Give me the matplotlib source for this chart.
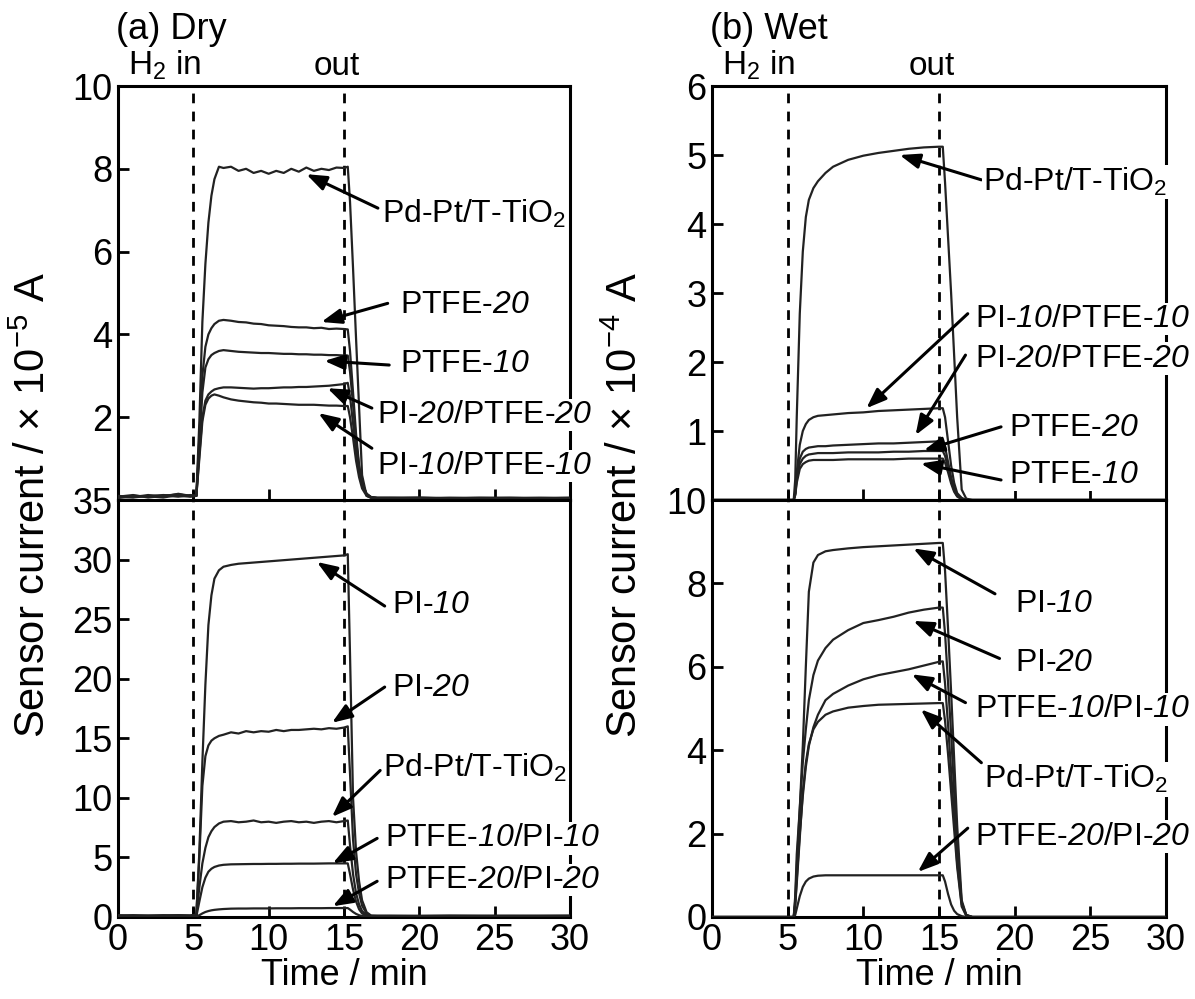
import matplotlib
matplotlib.use('Agg')
import matplotlib.pyplot as plt

plt.rcParams['font.family'] = ['Liberation Sans', 'DejaVu Sans']
plt.rcParams['mathtext.fontset'] = 'custom'
plt.rcParams['mathtext.rm'] = 'Liberation Sans'
plt.rcParams['mathtext.it'] = 'Liberation Sans:italic'
plt.rcParams['mathtext.sf'] = 'Liberation Sans:italic'  # used for the italic thickness numbers

# ---- time grids (min) ----
t_dry = [0, 1, 2, 3, 4, 4.8, 5.2, 5.4, 5.6, 5.8, 6.0, 6.2, 6.4, 6.7, 7.0, 7.5, 8.0, 8.5,
         9.0, 9.5, 10.0, 10.5, 11.0, 11.5, 12.0, 12.5, 13.0, 13.5, 14.0, 14.5, 15.0, 15.25,
         15.4, 15.6, 15.8, 16.0, 16.2, 16.5, 16.8, 17.2, 18, 20, 22, 24, 26, 28, 30]
t_wet = [0, 2, 4, 5.0, 5.4, 5.5, 5.6, 5.8, 6.0, 6.2, 6.4, 6.7, 7.0, 7.5, 8.0, 9.0, 10, 11,
         12, 13, 14, 15.0, 15.25, 15.4, 15.6, 15.8, 16.0, 16.2, 16.5, 16.8, 17.2, 18, 20, 25, 30]

# ---- (a) Dry, upper panel, x10^-5 A ----
dry_pdpt_top = [0.08, 0.12, 0.06, 0.10, 0.14, 0.09, 0.10,
                1.9, 4.3, 5.7, 6.7, 7.35, 7.75, 8.05,
                8.02, 8.05, 7.95, 8.0, 7.9, 7.95, 7.88, 7.95, 7.9, 8.0, 7.93, 8.03, 7.95, 8.0, 7.97, 8.03, 8.02, 8.05,
                7.2, 5.6, 3.9, 2.25, 0.6, 0.1, 0.06, 0.05, 0.05, 0.06, 0.04, 0.05, 0.05, 0.04, 0.05]
dry_ptfe20_top = [0.06, 0.1, 0.08, 0.12, 0.1, 0.08, 0.1,
                  1.5, 3.0, 3.7, 4.0, 4.15, 4.25, 4.33,
                  4.35, 4.33, 4.3, 4.29, 4.26, 4.25, 4.22, 4.21, 4.2, 4.18, 4.17, 4.17, 4.15, 4.16, 4.13, 4.14, 4.13, 4.12,
                  3.6, 2.6, 1.6, 0.85, 0.4, 0.15, 0.07, 0.05, 0.05, 0.04, 0.05, 0.05, 0.04, 0.05, 0.05]
dry_ptfe10_top = [0.1, 0.07, 0.12, 0.08, 0.15, 0.1, 0.1,
                  1.3, 2.6, 3.2, 3.4, 3.5, 3.55, 3.6,
                  3.62, 3.6, 3.58, 3.57, 3.56, 3.55, 3.55, 3.54, 3.53, 3.53, 3.52, 3.52, 3.51, 3.51, 3.5, 3.5, 3.49, 3.49,
                  3.1, 2.3, 1.45, 0.8, 0.4, 0.15, 0.07, 0.05, 0.05, 0.05, 0.04, 0.05, 0.05, 0.05, 0.04]
dry_pi20ptfe20_top = [0.05, 0.1, 0.09, 0.06, 0.12, 0.1, 0.1,
                      1.1, 2.0, 2.4, 2.55, 2.62, 2.67, 2.7,
                      2.72, 2.72, 2.71, 2.7, 2.69, 2.7, 2.7, 2.71, 2.72, 2.72, 2.73, 2.73, 2.74, 2.75, 2.76, 2.78, 2.8, 2.83,
                      2.5, 1.85, 1.2, 0.7, 0.35, 0.13, 0.06, 0.05, 0.05, 0.05, 0.05, 0.04, 0.05, 0.05, 0.05]
dry_pi10ptfe10_top = [0.07, 0.06, 0.1, 0.11, 0.08, 0.12, 0.1,
                      1.0, 1.9, 2.3, 2.45, 2.52, 2.55, 2.52,
                      2.48, 2.43, 2.4, 2.38, 2.36, 2.35, 2.33, 2.33, 2.32, 2.31, 2.3, 2.3, 2.3, 2.29, 2.28, 2.28, 2.27, 2.27,
                      2.0, 1.5, 0.95, 0.55, 0.28, 0.1, 0.05, 0.05, 0.05, 0.04, 0.05, 0.05, 0.05, 0.04, 0.05]

# ---- (a) Dry, lower panel, x10^-5 A ----
dry_pi10_bot = [0.1, 0.15, 0.1, 0.12, 0.15, 0.1, 0.2,
                5.5, 13, 19.5, 24.5, 27.0, 28.4, 29.1,
                29.4, 29.55, 29.65, 29.7, 29.75, 29.8, 29.85, 29.9, 29.95, 30.0, 30.05, 30.1, 30.15, 30.2, 30.25, 30.3, 30.35, 30.45,
                22, 10, 5.5, 3.0, 1.4, 0.4, 0.12, 0.1, 0.08, 0.1, 0.1, 0.08, 0.1, 0.1, 0.1]
dry_pi20_bot = [0.15, 0.1, 0.12, 0.1, 0.15, 0.12, 0.2,
                5, 11, 13.5, 14.4, 14.8, 15.0, 15.2,
                15.3, 15.5, 15.4, 15.6, 15.5, 15.6, 15.55, 15.7, 15.6, 15.7, 15.7, 15.75, 15.8, 15.75, 15.85, 15.8, 15.9, 16.0,
                12, 6.5, 3.6, 2.0, 0.95, 0.3, 0.1, 0.1, 0.1, 0.08, 0.1, 0.1, 0.1, 0.08, 0.1]
dry_pdpt_bot = [0.1, 0.12, 0.1, 0.15, 0.1, 0.12, 0.15,
                2.5, 4.5, 5.8, 6.7, 7.2, 7.55, 7.85,
                8.0, 8.05, 7.95, 8.0, 8.1, 7.95, 8.0, 7.9, 8.0, 8.05, 7.95, 8.0, 7.9, 8.0, 8.05, 7.95, 8.05, 8.1,
                6.0, 3.6, 2.0, 1.05, 0.5, 0.15, 0.08, 0.08, 0.1, 0.08, 0.1, 0.1, 0.08, 0.1, 0.1]
dry_ptfe10pi10_bot = [0.05, 0.05, 0.05, 0.05, 0.05, 0.05, 0.05,
                      1.3, 2.5, 3.3, 3.8, 4.05, 4.2, 4.32,
                      4.38, 4.42, 4.43, 4.44, 4.45, 4.45, 4.46, 4.46, 4.47, 4.47, 4.48, 4.48, 4.48, 4.49, 4.5, 4.5, 4.5, 4.5,
                      3.6, 2.3, 1.3, 0.65, 0.3, 0.1, 0.05, 0.05, 0.05, 0.05, 0.05, 0.05, 0.05, 0.05, 0.05]
dry_ptfe20pi20_bot = [0.05, 0.05, 0.05, 0.05, 0.05, 0.05, 0.05,
                      0.15, 0.3, 0.42, 0.5, 0.56, 0.6, 0.64,
                      0.67, 0.7, 0.71, 0.71, 0.72, 0.72, 0.72, 0.73, 0.73, 0.73, 0.74, 0.74, 0.74, 0.74, 0.75, 0.75, 0.75, 0.75,
                      0.62, 0.42, 0.26, 0.15, 0.08, 0.05, 0.05, 0.05, 0.05, 0.05, 0.05, 0.05, 0.05, 0.05, 0.05]

# ---- (b) Wet, upper panel, x10^-4 A ----
wet_pdpt_top = [0, 0, 0, 0, 0,
                0.3, 1.2, 2.7, 3.6, 4.1, 4.35, 4.52, 4.62,
                4.74, 4.83, 4.93, 4.99, 5.03, 5.06, 5.09, 5.11, 5.12, 5.12,
                4.6, 3.8, 3.0, 2.1, 1.2, 0.15, 0.02, 0, 0, 0, 0, 0]
wet_pi10ptfe10_top = [0, 0, 0, 0, 0,
                      0.1, 0.4, 0.8, 1.0, 1.1, 1.16, 1.2, 1.22,
                      1.23, 1.24, 1.26, 1.27, 1.29, 1.3, 1.31, 1.32, 1.33, 1.33,
                      1.2, 0.85, 0.5, 0.25, 0.1, 0.03, 0, 0, 0, 0, 0, 0]
wet_pi20ptfe20_top = [0, 0, 0, 0, 0,
                      0.1, 0.35, 0.6, 0.7, 0.74, 0.76, 0.77, 0.78,
                      0.78, 0.79, 0.8, 0.81, 0.82, 0.82, 0.83, 0.84, 0.85, 0.85,
                      0.77, 0.55, 0.33, 0.17, 0.07, 0.02, 0, 0, 0, 0, 0, 0]
wet_ptfe20_top = [0, 0, 0, 0, 0,
                  0.08, 0.3, 0.52, 0.6, 0.64, 0.66, 0.67, 0.68,
                  0.68, 0.68, 0.69, 0.69, 0.69, 0.7, 0.7, 0.71, 0.71, 0.71,
                  0.64, 0.46, 0.28, 0.14, 0.06, 0.02, 0, 0, 0, 0, 0, 0]
wet_ptfe10_top = [0, 0, 0, 0, 0,
                  0.07, 0.25, 0.45, 0.52, 0.55, 0.57, 0.58, 0.58,
                  0.58, 0.58, 0.59, 0.59, 0.59, 0.59, 0.6, 0.6, 0.6, 0.6,
                  0.54, 0.4, 0.24, 0.12, 0.05, 0.01, 0, 0, 0, 0, 0, 0]

# ---- (b) Wet, lower panel, x10^-4 A ----
wet_pi10_bot = [0, 0, 0, 0, 0,
                0.5, 1.5, 2.6, 4.1, 6.0, 7.8, 8.5, 8.68,
                8.77, 8.8, 8.84, 8.87, 8.89, 8.91, 8.93, 8.95, 8.97, 8.97,
                8.3, 6.9, 5.4, 3.8, 2.2, 0.4, 0.05, 0, 0, 0, 0, 0]
wet_pi20_bot = [0, 0, 0, 0, 0,
                0.4, 1.2, 2.6, 3.7, 4.5, 5.2, 5.8, 6.15,
                6.45, 6.65, 6.88, 7.05, 7.12, 7.2, 7.3, 7.37, 7.42, 7.42,
                6.8, 5.6, 4.4, 3.0, 1.7, 0.35, 0.05, 0, 0, 0, 0, 0]
wet_ptfe10pi10_bot = [0, 0, 0, 0, 0,
                      0.3, 0.9, 2.0, 2.9, 3.6, 4.1, 4.55, 4.85,
                      5.2, 5.35, 5.55, 5.7, 5.8, 5.87, 5.94, 6.03, 6.12, 6.13,
                      5.6, 4.6, 3.5, 2.4, 1.3, 0.3, 0.04, 0, 0, 0, 0, 0]
wet_pdpt_bot = [0, 0, 0, 0, 0,
                0.3, 0.8, 1.9, 3.0, 3.7, 4.15, 4.5, 4.68,
                4.85, 4.93, 5.02, 5.06, 5.09, 5.1, 5.11, 5.12, 5.13, 5.13,
                4.7, 3.9, 3.0, 2.1, 1.2, 0.25, 0.03, 0, 0, 0, 0, 0]
wet_ptfe20pi20_bot = [0, 0, 0, 0, 0,
                      0.05, 0.2, 0.5, 0.72, 0.85, 0.92, 0.97, 0.99,
                      1.0, 1.0, 1.0, 1.0, 1.0, 1.0, 1.0, 1.0, 1.0, 1.0,
                      0.85, 0.55, 0.3, 0.15, 0.07, 0.02, 0, 0, 0, 0, 0, 0]

# ---- labels: (text, text pos, arrow tail, arrow head) in data units ----
PDPT = "Pd-Pt/T-TiO$_2$"
notes_dry_top = [
    (PDPT, (17.5, 6.9), (17.25, 7.05), (12.5, 7.87)),
    ("PTFE-$\\mathsf{20}$", (18.7, 4.7), (17.9, 4.75), (13.5, 4.3)),
    ("PTFE-$\\mathsf{10}$", (18.7, 3.28), (18.0, 3.26), (13.7, 3.36)),
    ("PI-$\\mathsf{20}$/PTFE-$\\mathsf{20}$", (17.2, 2.05), (16.85, 2.22), (13.9, 2.7)),
    ("PI-$\\mathsf{10}$/PTFE-$\\mathsf{10}$", (17.2, 0.82), (16.85, 1.25), (13.3, 2.1)),
]
notes_dry_bot = [
    ("PI-$\\mathsf{10}$", (18.2, 26.2), (17.7, 26.1), (13.2, 29.8)),
    ("PI-$\\mathsf{20}$", (18.2, 19.2), (17.7, 19.3), (14.2, 16.3)),
    (PDPT, (17.6, 12.5), (17.4, 12.3), (14.2, 8.4)),
    ("PTFE-$\\mathsf{10}$/PI-$\\mathsf{10}$", (17.7, 6.6), (17.2, 6.6), (14.25, 4.5)),
    ("PTFE-$\\mathsf{20}$/PI-$\\mathsf{20}$", (17.7, 3.1), (17.2, 3.0), (14.25, 0.9)),
]
notes_wet_top = [
    (PDPT, (17.9, 4.61), (17.8, 4.64), (12.4, 5.0)),
    ("PI-$\\mathsf{10}$/PTFE-$\\mathsf{10}$", (17.4, 2.62), (16.9, 2.7), (10.2, 1.33)),
    ("PI-$\\mathsf{20}$/PTFE-$\\mathsf{20}$", (17.4, 2.05), (16.75, 2.1), (13.45, 0.94)),
    ("PTFE-$\\mathsf{20}$", (19.6, 1.04), (19.1, 1.06), (14.0, 0.72)),
    ("PTFE-$\\mathsf{10}$", (19.6, 0.36), (19.1, 0.29), (13.8, 0.53)),
]
notes_wet_bot = [
    ("PI-$\\mathsf{10}$", (20.0, 7.5), (18.7, 7.75), (13.3, 8.84)),
    ("PI-$\\mathsf{20}$", (20.0, 6.1), (19.0, 6.2), (13.3, 7.1)),
    ("PTFE-$\\mathsf{10}$/PI-$\\mathsf{10}$", (17.4, 4.98), (16.75, 5.14), (13.2, 5.82)),
    (PDPT, (18.0, 3.3), (17.8, 3.7), (13.8, 4.98)),
    ("PTFE-$\\mathsf{20}$/PI-$\\mathsf{20}$", (17.4, 1.93), (16.9, 2.13), (13.6, 1.08)),
]

W, H = 1195, 999
fig = plt.figure(figsize=(W / 100, H / 100), dpi=100)


def box(x0, y0, x1, y1):
    return [x0 / W, 1 - y1 / H, (x1 - x0) / W, (y1 - y0) / H]


def panel(rect, t, curves, ylim, yticks, notes, bottom):
    ax = fig.add_axes(rect)
    for y in curves:
        ax.plot(t, y, color='#222222', lw=1.6, zorder=3)
    for x in (5, 15):
        ax.axvline(x, color='k', lw=2, dashes=(3.5, 3), zorder=2)
    ax.set_xlim(0, 30)
    ax.set_ylim(*ylim)
    ax.set_xticks(range(0, 31, 5))
    ax.set_yticks(yticks)
    ax.tick_params(direction='in', length=8, width=2, labelsize=26, pad=4,
                   top=False, right=False, labelbottom=bottom)
    for s in ax.spines.values():
        s.set_linewidth(2.2)
    for label, tp, tail, head in notes:
        ax.annotate('', xy=head, xytext=tail, annotation_clip=False,
                    arrowprops=dict(arrowstyle='-|>,head_length=0.8,head_width=0.3',
                                    lw=2.2, color='k', shrinkA=0, shrinkB=0,
                                    mutation_scale=15), zorder=4)
        ax.text(tp[0], tp[1], label, fontsize=23, ha='left', va='center',
                clip_on=False, zorder=5,
                bbox=dict(facecolor='white', edgecolor='none', pad=1))
    return ax


a1 = panel(box(118, 86, 570, 500), t_dry,
           [dry_pdpt_top, dry_ptfe20_top, dry_ptfe10_top, dry_pi20ptfe20_top, dry_pi10ptfe10_top],
           (0, 10), [2, 4, 6, 8, 10], notes_dry_top, False)
a2 = panel(box(118, 500, 570, 917), t_dry,
           [dry_pi10_bot, dry_pi20_bot, dry_pdpt_bot, dry_ptfe10pi10_bot, dry_ptfe20pi20_bot],
           (0, 35), list(range(0, 36, 5)), notes_dry_bot, True)
b1 = panel(box(712, 86, 1166, 500), t_wet,
           [wet_pdpt_top, wet_pi10ptfe10_top, wet_pi20ptfe20_top, wet_ptfe20_top, wet_ptfe10_top],
           (0, 6), [1, 2, 3, 4, 5, 6], notes_wet_top, False)
b2 = panel(box(712, 500, 1166, 917), t_wet,
           [wet_pi10_bot, wet_pi20_bot, wet_ptfe10pi10_bot, wet_pdpt_bot, wet_ptfe20pi20_bot],
           (0, 10), [0, 2, 4, 6, 8, 10], notes_wet_bot, True)

for ax in (a2, b2):
    ax.set_xlabel('Time / min', fontsize=26, labelpad=0)

for ax, title in ((a1, '(a) Dry'), (b1, '(b) Wet')):
    tr = ax.get_xaxis_transform()
    ax.text(0.65, 1.01, 'H$_2$ in', transform=tr, fontsize=24, ha='left', va='bottom')
    ax.text(14.5, 1.01, 'out', transform=tr, fontsize=24, ha='center', va='bottom')
    ax.text(-0.005, 1.095, title, transform=ax.transAxes, fontsize=26, ha='left', va='bottom')

fig.text(34 / W, 1 - 505 / H, 'Sensor current / $\\times$ 10$^{-5}$ A', rotation=90,
         fontsize=30, ha='center', va='center')
fig.text(626 / W, 1 - 505 / H, 'Sensor current / $\\times$ 10$^{-4}$ A', rotation=90,
         fontsize=30, ha='center', va='center')

fig.savefig('out.png', dpi=100)
